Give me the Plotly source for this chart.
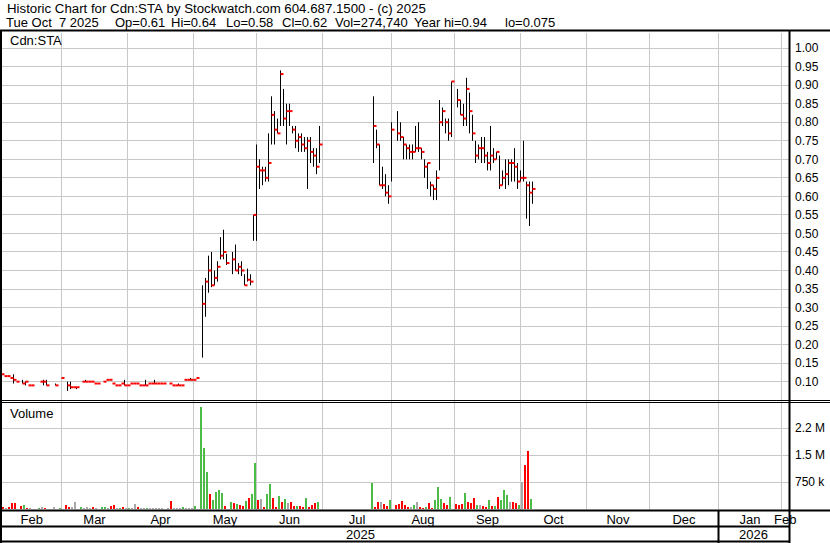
import numpy as np
import plotly.graph_objects as go

# ---------------- data ----------------
dates = [
    "2025-01-31", "2025-02-03", "2025-02-04", "2025-02-05", "2025-02-06", "2025-02-07",
    "2025-02-11", "2025-02-12", "2025-02-13", "2025-02-14", "2025-02-19", "2025-02-20",
    "2025-02-21", "2025-02-26", "2025-02-28", "2025-03-04", "2025-03-05", "2025-03-06",
    "2025-03-07", "2025-03-11", "2025-03-12", "2025-03-13", "2025-03-14", "2025-03-17",
    "2025-03-18", "2025-03-20", "2025-03-21", "2025-03-24", "2025-03-25", "2025-03-26",
    "2025-03-27", "2025-03-28", "2025-03-31", "2025-04-01", "2025-04-02", "2025-04-03",
    "2025-04-04", "2025-04-07", "2025-04-08", "2025-04-09", "2025-04-10", "2025-04-11",
    "2025-04-14", "2025-04-15", "2025-04-16", "2025-04-17", "2025-04-21", "2025-04-22",
    "2025-04-23", "2025-04-24", "2025-04-25", "2025-04-28", "2025-04-29", "2025-04-30",
    "2025-05-01", "2025-05-02", "2025-05-06", "2025-05-07", "2025-05-08", "2025-05-09",
    "2025-05-12", "2025-05-13", "2025-05-14", "2025-05-15", "2025-05-16", "2025-05-20",
    "2025-05-21", "2025-05-22", "2025-05-23", "2025-05-26", "2025-05-27", "2025-05-28",
    "2025-05-29", "2025-05-30", "2025-06-02", "2025-06-03", "2025-06-04", "2025-06-05",
    "2025-06-06", "2025-06-09", "2025-06-10", "2025-06-11", "2025-06-12", "2025-06-13",
    "2025-06-16", "2025-06-17", "2025-06-18", "2025-06-19", "2025-06-20", "2025-06-23",
    "2025-06-24", "2025-06-25", "2025-06-26", "2025-06-27", "2025-06-30", "2025-07-24",
    "2025-07-25", "2025-07-28", "2025-07-29", "2025-07-30", "2025-07-31", "2025-08-01",
    "2025-08-05", "2025-08-06", "2025-08-07", "2025-08-08", "2025-08-11", "2025-08-12",
    "2025-08-13", "2025-08-14", "2025-08-15", "2025-08-18", "2025-08-19", "2025-08-20",
    "2025-08-21", "2025-08-22", "2025-08-25", "2025-08-26", "2025-08-27", "2025-08-28",
    "2025-08-29", "2025-09-02", "2025-09-03", "2025-09-04", "2025-09-05", "2025-09-08",
    "2025-09-09", "2025-09-10", "2025-09-11", "2025-09-12", "2025-09-15", "2025-09-16",
    "2025-09-17", "2025-09-18", "2025-09-19", "2025-09-22", "2025-09-23", "2025-09-24",
    "2025-09-25", "2025-09-26", "2025-09-29", "2025-09-30", "2025-10-01", "2025-10-02",
    "2025-10-03", "2025-10-06", "2025-10-07",
]

high = [
    0.12, 0.115, 0.115, 0.11, 0.12, 0.10,
    0.105, 0.10, 0.09, 0.09, 0.10, 0.105,
    0.105, 0.095, 0.11, 0.10, 0.10, 0.085,
    0.085, 0.10, 0.105, 0.10, 0.10, 0.095,
    0.095, 0.10, 0.105, 0.105, 0.095, 0.09,
    0.09, 0.095, 0.105, 0.09, 0.095, 0.095,
    0.095, 0.09, 0.09, 0.105, 0.095, 0.095,
    0.105, 0.095, 0.095, 0.095, 0.095, 0.09,
    0.09, 0.095, 0.09, 0.105, 0.105, 0.11,
    0.105, 0.11, 0.36, 0.38, 0.44, 0.45,
    0.40, 0.425, 0.49, 0.51, 0.445, 0.45,
    0.47, 0.42, 0.425, 0.39, 0.405, 0.39,
    0.55, 0.74, 0.70, 0.68, 0.68, 0.77,
    0.87, 0.83, 0.81, 0.94, 0.89, 0.85,
    0.85, 0.79, 0.79, 0.77, 0.77, 0.76,
    0.76, 0.76, 0.73, 0.73, 0.79, 0.87,
    0.78, 0.74, 0.68, 0.66, 0.63, 0.80,
    0.83, 0.80, 0.76, 0.74, 0.74, 0.74,
    0.79, 0.80, 0.73, 0.70, 0.69, 0.64,
    0.63, 0.67, 0.86, 0.84, 0.81, 0.81,
    0.91, 0.89, 0.86, 0.85, 0.92, 0.88,
    0.82, 0.75, 0.74, 0.76, 0.76, 0.72,
    0.79, 0.73, 0.72, 0.71, 0.67, 0.70,
    0.70, 0.70, 0.73, 0.69, 0.67, 0.75,
    0.64, 0.64, 0.64,
]

low = [
    0.12, 0.115, 0.115, 0.11, 0.095, 0.10,
    0.095, 0.09, 0.09, 0.09, 0.10, 0.09,
    0.09, 0.09, 0.11, 0.075, 0.08, 0.085,
    0.08, 0.10, 0.10, 0.10, 0.10, 0.095,
    0.095, 0.10, 0.105, 0.105, 0.095, 0.09,
    0.09, 0.095, 0.09, 0.09, 0.095, 0.095,
    0.095, 0.09, 0.09, 0.09, 0.095, 0.095,
    0.095, 0.095, 0.095, 0.095, 0.095, 0.09,
    0.09, 0.09, 0.09, 0.105, 0.105, 0.105,
    0.105, 0.11, 0.165, 0.275, 0.34, 0.355,
    0.36, 0.37, 0.43, 0.43, 0.415, 0.39,
    0.40, 0.39, 0.385, 0.36, 0.37, 0.36,
    0.48, 0.48, 0.62, 0.63, 0.64, 0.64,
    0.74, 0.74, 0.77, 0.79, 0.79, 0.74,
    0.79, 0.77, 0.73, 0.72, 0.72, 0.72,
    0.62, 0.69, 0.68, 0.66, 0.69, 0.69,
    0.73, 0.63, 0.62, 0.60, 0.58, 0.64,
    0.75, 0.75, 0.70, 0.70, 0.70, 0.70,
    0.72, 0.72, 0.70, 0.65, 0.62, 0.60,
    0.59, 0.59, 0.67, 0.79, 0.77, 0.75,
    0.76, 0.84, 0.82, 0.79, 0.79, 0.77,
    0.75, 0.69, 0.70, 0.69, 0.69, 0.67,
    0.67, 0.69, 0.70, 0.62, 0.63, 0.62,
    0.63, 0.64, 0.64, 0.62, 0.64, 0.64,
    0.54, 0.52, 0.58,
]

close = [
    0.12, 0.115, 0.115, 0.11, 0.105, 0.10,
    0.095, 0.10, 0.09, 0.09, 0.10, 0.10,
    0.09, 0.09, 0.11, 0.09, 0.085, 0.085,
    0.085, 0.10, 0.10, 0.10, 0.10, 0.095,
    0.095, 0.10, 0.105, 0.105, 0.095, 0.09,
    0.09, 0.095, 0.09, 0.09, 0.095, 0.095,
    0.095, 0.09, 0.09, 0.09, 0.095, 0.095,
    0.095, 0.095, 0.095, 0.095, 0.095, 0.09,
    0.09, 0.09, 0.09, 0.105, 0.105, 0.105,
    0.105, 0.11, 0.31, 0.37, 0.40, 0.36,
    0.38, 0.41, 0.44, 0.45, 0.42, 0.43,
    0.40, 0.41, 0.40, 0.36, 0.375, 0.37,
    0.55, 0.68, 0.67, 0.67, 0.65, 0.69,
    0.82, 0.78, 0.77, 0.93, 0.81, 0.83,
    0.83, 0.78, 0.75, 0.76, 0.74, 0.73,
    0.75, 0.72, 0.71, 0.68, 0.74, 0.79,
    0.74, 0.63, 0.63, 0.61, 0.60, 0.78,
    0.77, 0.76, 0.74, 0.73, 0.72, 0.72,
    0.73, 0.73, 0.72, 0.68, 0.69, 0.63,
    0.62, 0.65, 0.80, 0.83, 0.80, 0.77,
    0.91, 0.86, 0.82, 0.81, 0.89, 0.83,
    0.77, 0.71, 0.73, 0.73, 0.71, 0.69,
    0.71, 0.70, 0.72, 0.63, 0.65, 0.66,
    0.69, 0.69, 0.68, 0.64, 0.65, 0.65,
    0.63, 0.61, 0.62,
]

volume = [
    20000, 30000, 20000, 30000, 165000, 165000,
    85000, 110000, 28000, 28000, 28000, 56000,
    28000, 56000, 28000, 110000, 56000, 56000,
    195000, 56000, 28000, 56000, 28000, 56000,
    28000, 56000, 56000, 28000, 85000, 110000,
    28000, 28000, 56000, 28000, 28000, 28000,
    140000, 56000, 28000, 28000, 28000, 28000,
    28000, 28000, 28000, 28000, 28000, 220000,
    28000, 28000, 28000, 56000, 28000, 28000,
    28000, 85000, 2850000, 1710000, 1040000, 418000,
    251000, 474000, 539000, 446000, 84000, 195000,
    167000, 139000, 111000, 84000, 223000, 307000,
    418000, 1282000, 251000, 279000, 56000, 418000,
    697000, 307000, 56000, 362000, 195000, 279000,
    167000, 195000, 84000, 84000, 84000, 56000,
    307000, 56000, 111000, 167000, 195000, 725000,
    56000, 195000, 195000, 139000, 84000, 251000,
    111000, 139000, 223000, 111000, 56000, 56000,
    111000, 195000, 56000, 28000, 56000, 167000,
    28000, 251000, 613000, 279000, 167000, 111000,
    335000, 139000, 111000, 139000, 446000, 195000,
    167000, 307000, 111000, 111000, 84000, 56000,
    251000, 84000, 84000, 335000, 251000, 530000,
    390000, 195000, 195000, 167000, 111000, 753000,
    1227000, 1617000, 274740,
]

month_starts = ["2025-02-01", "2025-03-01", "2025-04-01", "2025-05-01", "2025-06-01",
                "2025-07-01", "2025-08-01", "2025-09-01", "2025-10-01", "2025-11-01",
                "2025-12-01", "2026-01-01", "2026-02-01"]
month_labels = ["Feb", "Mar", "Apr", "May", "Jun", "Jul", "Aug", "Sep", "Oct", "Nov",
                "Dec", "Jan", "Feb"]
year_labels = ["2025", "2026"]
year_start = "2026-01-01"

price_ticks = [0.10, 0.15, 0.20, 0.25, 0.30, 0.35, 0.40, 0.45, 0.50, 0.55,
               0.60, 0.65, 0.70, 0.75, 0.80, 0.85, 0.90, 0.95, 1.00]
vol_ticks = [750000, 1500000, 2250000]
vol_tick_text = ["750 k", "1.5 M", "2.2 M"]

title_line1 = "Historic Chart for Cdn:STA by Stockwatch.com 604.687.1500 - (c) 2025"
title_fields = ["Tue Oct  7 2025", "Op=0.61", "Hi=0.64", "Lo=0.58", "Cl=0.62",
                "Vol=274,740", "Year hi=0.94", "lo=0.075"]
symbol_label = "Cdn:STA"
volume_label = "Volume"

# ---------------- layout geometry (pixels) ----------------
W, H = 830, 543
PL, PR, PT, PB = 2, 789, 33, 510          # plot area
SLOT_PX = 3.0                              # one weekday
X0_PX = 3.0                                # pixel of first weekday slot centre
ORIGIN = np.datetime64("2025-02-03")
FONT = "Arial, 'Liberation Sans', Arimo, sans-serif"
FIELD_PX = [4, 113, 169, 224, 280, 333, 412, 503]   # x of header line-2 fields

GREEN, RED, GRAY = "#4cbb47", "#ff0000", "#a8a8a8"
GRID = "#c8c8c8"


def slot(d):
    return float(np.busday_count(ORIGIN, np.datetime64(d)))


def xp(px):
    return (px - PL) / (PR - PL)


def yp(py):
    return (PB - py) / (PB - PT)


XMIN = (PL - X0_PX) / SLOT_PX
XMAX = (PR - X0_PX) / SLOT_PX
LINE_OFF = 0.5   # hi-lo line sits half a slot right of the slot centre

xs = np.array([slot(d) for d in dates])

# hi-lo vertical lines
hl_x, hl_y = [], []
for x, h, l in zip(xs, high, low):
    if h > l:
        hl_x += [x + LINE_OFF, x + LINE_OFF, None]
        hl_y += [l, h, None]

# close ticks
cl_x, cl_y = [], []
for x, c in zip(xs, close):
    cl_x += [x + LINE_OFF, x + LINE_OFF + 1.0, None]
    cl_y += [c, c, None]

# volume colours from close change
vcol = []
prev = None
for c in close:
    if prev is None or c == prev:
        vcol.append(GRAY)
    elif c > prev:
        vcol.append(GREEN)
    else:
        vcol.append(RED)
    prev = c

# month grid positions (last weekday on/before the month start)
grid_x = []
for m in month_starts:
    d = np.busday_offset(np.datetime64(m), 0, roll="backward")
    grid_x.append(slot(d) + LINE_OFF)

label_x = []
for i in range(len(month_starts)):
    a = max(grid_x[i], XMIN)
    b = min(grid_x[i + 1], XMAX) if i + 1 < len(grid_x) else XMAX
    label_x.append((a + b) / 2)

jan_x = slot(np.busday_offset(np.datetime64(year_start), 0, roll="backward")) + LINE_OFF

fig = go.Figure()

fig.add_trace(go.Bar(x=xs, y=volume, yaxis="y2", width=2 / 3,
                     marker=dict(color=vcol, line=dict(width=0)),
                     hoverinfo="skip", showlegend=False))
fig.add_trace(go.Scatter(x=hl_x, y=hl_y, mode="lines", yaxis="y",
                         line=dict(color="black", width=1),
                         hoverinfo="skip", showlegend=False))
fig.add_trace(go.Scatter(x=cl_x, y=cl_y, mode="lines", yaxis="y",
                         line=dict(color=RED, width=2),
                         hoverinfo="skip", showlegend=False))

shapes = []
for g in grid_x:
    shapes.append(dict(type="line", xref="x", yref="paper", x0=g, x1=g, y0=0, y1=1,
                       line=dict(color=GRID, width=1), layer="below"))


def hline(py, x0, x1, w):
    shapes.append(dict(type="line", xref="paper", yref="paper",
                       x0=xp(x0), x1=xp(x1), y0=yp(py), y1=yp(py),
                       line=dict(color="black", width=w), layer="above"))


def vline(px, y0, y1, w):
    shapes.append(dict(type="line", xref="paper", yref="paper",
                       x0=xp(px), x1=xp(px), y0=yp(y0), y1=yp(y1),
                       line=dict(color="black", width=w), layer="above"))


hline(30.5, 0, 830, 2)
hline(400.5, 0, 830, 1)
hline(402.5, 0, 830, 1)
hline(510.5, 0, 830, 2)
hline(526.5, 0, 790, 2)
hline(541.5, 0, 790, 2)
vline(1, 30, 543, 2)
vline(789.5, 30, 543, 2)
shapes.append(dict(type="line", xref="x", yref="paper", x0=jan_x, x1=jan_x,
                   y0=yp(510), y1=yp(543), line=dict(color="black", width=2),
                   layer="above"))

txt = dict(size=13, color="black", family=FONT)
annotations = [
    dict(text=title_line1.replace(" ", "\u00a0"), xref="paper", yref="paper",
         x=xp(5), y=yp(8.5), xanchor="left", yanchor="middle", showarrow=False,
         font=dict(size=13.25, color="black", family=FONT)),
]
for f, fx in zip(title_fields, FIELD_PX):
    annotations.append(dict(text=f.replace(" ", "\u00a0"), xref="paper", yref="paper",
                            x=xp(fx), y=yp(22.5), xanchor="left", yanchor="middle",
                            showarrow=False, font=txt))
annotations += [
    dict(text=symbol_label, xref="paper", yref="paper", x=xp(8), y=yp(41),
         xanchor="left", yanchor="middle", showarrow=False, font=txt),
    dict(text=volume_label, xref="paper", yref="paper", x=xp(8), y=yp(413),
         xanchor="left", yanchor="middle", showarrow=False, font=txt),
    dict(text=year_labels[0], xref="x", yref="paper", x=(XMIN + jan_x) / 2, y=yp(534.5),
         xanchor="center", yanchor="middle", showarrow=False, font=txt),
    dict(text=year_labels[1], xref="x", yref="paper", x=(jan_x + XMAX) / 2, y=yp(534.5),
         xanchor="center", yanchor="middle", showarrow=False, font=txt),
]

fig.update_layout(
    width=W, height=H,
    margin=dict(l=PL, r=W - PR, t=PT, b=H - PB, pad=0),
    paper_bgcolor="white", plot_bgcolor="white",
    font=dict(family=FONT, color="black", size=12),
    bargap=0, showlegend=False,
    xaxis=dict(range=[XMIN, XMAX], anchor="y2", showgrid=False, zeroline=False,
               showline=False, ticks="", tickmode="array", tickvals=label_x,
               ticktext=month_labels, tickfont=txt,
               ticklabelstandoff=0, fixedrange=True),
    yaxis=dict(domain=[yp(400), 1], range=[0.10 - (400 - 381.67) / 370.6,
                                           0.10 + (381.67 - 33) / 370.6],
               side="right", anchor="x", tickmode="array", tickvals=price_ticks,
               ticktext=[f"{v:.2f}" for v in price_ticks], showgrid=True,
               gridcolor=GRID, gridwidth=1, zeroline=False, showline=False, ticks="",
               tickfont=dict(size=12, family=FONT, color="black"),
               ticklabelstandoff=5, fixedrange=True),
    yaxis2=dict(domain=[0, yp(403)], range=[-(510 - 509) / 35.87e-6,
                                            (509 - 403) / 35.87e-6],
                side="right", anchor="x", tickmode="array", tickvals=vol_ticks,
                ticktext=vol_tick_text, showgrid=True, gridcolor=GRID, gridwidth=1,
                zeroline=False, showline=False, ticks="",
                tickfont=dict(size=12, family=FONT, color="black"),
                ticklabelstandoff=5, fixedrange=True),
    shapes=shapes,
    annotations=annotations,
)

fig.write_html("out.html", config={"displayModeBar": False},
               post_script="document.body.style.margin='0';document.body.style.padding='0';")
